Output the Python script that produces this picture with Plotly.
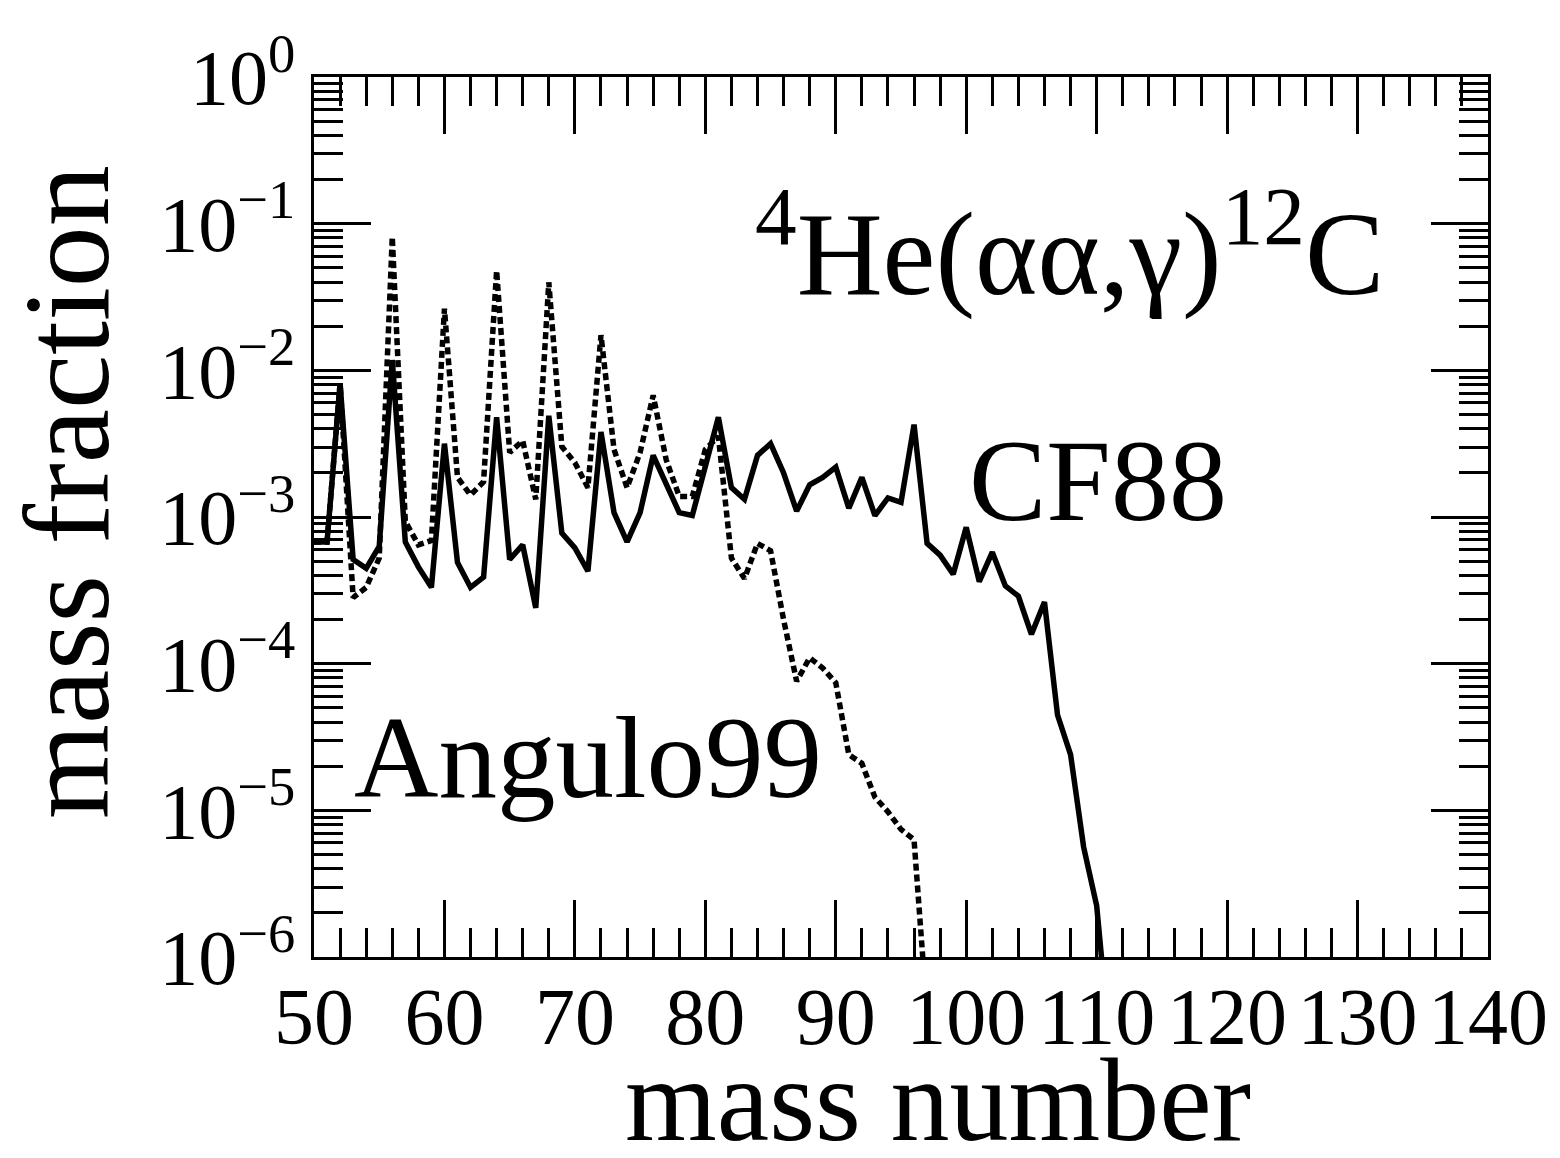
import plotly.graph_objects as go

mass = list(range(50, 112))

cf88_log = [-3.17, -3.17, -2.09, -3.29, -3.35, -3.20, -1.93, -3.17, -3.34, -3.48,
            -2.50, -3.31, -3.48, -3.41, -2.32, -3.29, -3.19, -3.62, -2.31, -3.11,
            -3.21, -3.37, -2.42, -2.97, -3.17, -2.97, -2.58, -2.78, -2.97, -2.99,
            -2.66, -2.32, -2.80, -2.88, -2.58, -2.50, -2.70, -2.96, -2.78, -2.73,
            -2.66, -2.94, -2.73, -2.99, -2.87, -2.90, -2.37, -3.18, -3.26, -3.39,
            -3.07, -3.44, -3.24, -3.47, -3.54, -3.80, -3.58, -4.35, -4.62, -5.25,
            -5.65, -6.60]

angulo_mass = list(range(50, 98))
angulo99_log = [-3.17, -3.17, -2.09, -3.55, -3.48, -3.28, -1.09, -3.03, -3.19, -3.16,
                -1.58, -2.73, -2.85, -2.76, -1.32, -2.56, -2.48, -2.88, -1.40, -2.52,
                -2.63, -2.80, -1.76, -2.54, -2.80, -2.56, -2.17, -2.61, -2.86, -2.86,
                -2.54, -2.45, -3.28, -3.42, -3.18, -3.23, -3.70, -4.12, -3.96, -4.03,
                -4.13, -4.62, -4.68, -4.91, -5.01, -5.13, -5.20, -6.40]

cf88 = [10 ** v for v in cf88_log]
angulo99 = [10 ** v for v in angulo99_log]

x_ticks = [50, 60, 70, 80, 90, 100, 110, 120, 130, 140]
y_exps = [0, -1, -2, -3, -4, -5, -6]
y_ticks = [10.0 ** e for e in y_exps]
y_ticktext = ["10<sup>%s</sup>" % ("0" if e == 0 else "\u2212%d" % (-e)) for e in y_exps]
y_minor = [k * 10.0 ** e for e in range(-6, 0) for k in range(2, 10)]

FONT = "Liberation Serif"

fig = go.Figure()
fig.add_trace(go.Scatter(x=mass, y=cf88, mode="lines",
                         line=dict(color="black", width=5.5), showlegend=False))
fig.add_trace(go.Scatter(x=angulo_mass, y=angulo99, mode="lines",
                         line=dict(color="black", width=5.5, dash="7px,4px"), showlegend=False))

L, R, T, B = 314, 72, 77, 201
W, H = 1560, 1158
pw, ph = W - L - R, H - T - B

def px(xp):
    return (xp - L) / pw

def py(yp):
    return (H - B - yp) / ph

fig.update_layout(
    width=W, height=H,
    margin=dict(l=L, r=R, t=T, b=B, pad=0),
    plot_bgcolor="white", paper_bgcolor="white",
    font=dict(family=FONT, color="black"),
    xaxis=dict(range=[50, 140], tickmode="array", tickvals=x_ticks,
               ticks="inside", ticklen=57, tickwidth=3, tickcolor="black",
               showline=True, linewidth=3, linecolor="black", mirror="ticks",
               showgrid=False, zeroline=False, ticklabelstandoff=-12,
               tickfont=dict(family=FONT, size=80, color="black"),
               minor=dict(dtick=2, tick0=50, ticks="inside", ticklen=29, tickwidth=3,
                          tickcolor="black", showgrid=False)),
    yaxis=dict(type="log", range=[-6, 0], tickmode="array", tickvals=y_ticks,
               ticktext=y_ticktext,
               ticks="inside", ticklen=57, tickwidth=3, tickcolor="black",
               showline=True, linewidth=3, linecolor="black", mirror="ticks",
               showgrid=False, zeroline=False,
               tickfont=dict(family=FONT, size=78, color="black"),
               minor=dict(tickmode="array", tickvals=y_minor, ticks="inside", ticklen=29,
                          tickwidth=3, tickcolor="black", showgrid=False)),
)

ann = [
    dict(text="<sup>4</sup>He(αα,γ)<sup>12</sup>C", x=px(753), y=py(245), xanchor="left", yanchor="middle", size=119),
    dict(text="CF88", x=px(967), y=py(481), xanchor="left", yanchor="middle", size=116),
    dict(text="Angulo99", x=px(352), y=py(757), xanchor="left", yanchor="middle", size=117),
    dict(text="mass number", x=px(938), y=py(1100), xanchor="center", yanchor="middle", size=118),
]
for a in ann:
    fig.add_annotation(text=a["text"], x=a["x"], y=a["y"], xref="paper", yref="paper",
                       xanchor=a["xanchor"], yanchor=a["yanchor"], showarrow=False,
                       font=dict(family=FONT, size=a["size"], color="black"))
fig.add_annotation(text="mass fraction", x=px(66), y=py(492), xref="paper", yref="paper",
                   xanchor="center", yanchor="middle", textangle=-90, showarrow=False,
                   font=dict(family=FONT, size=122, color="black"))

fig.write_html("out.html")
